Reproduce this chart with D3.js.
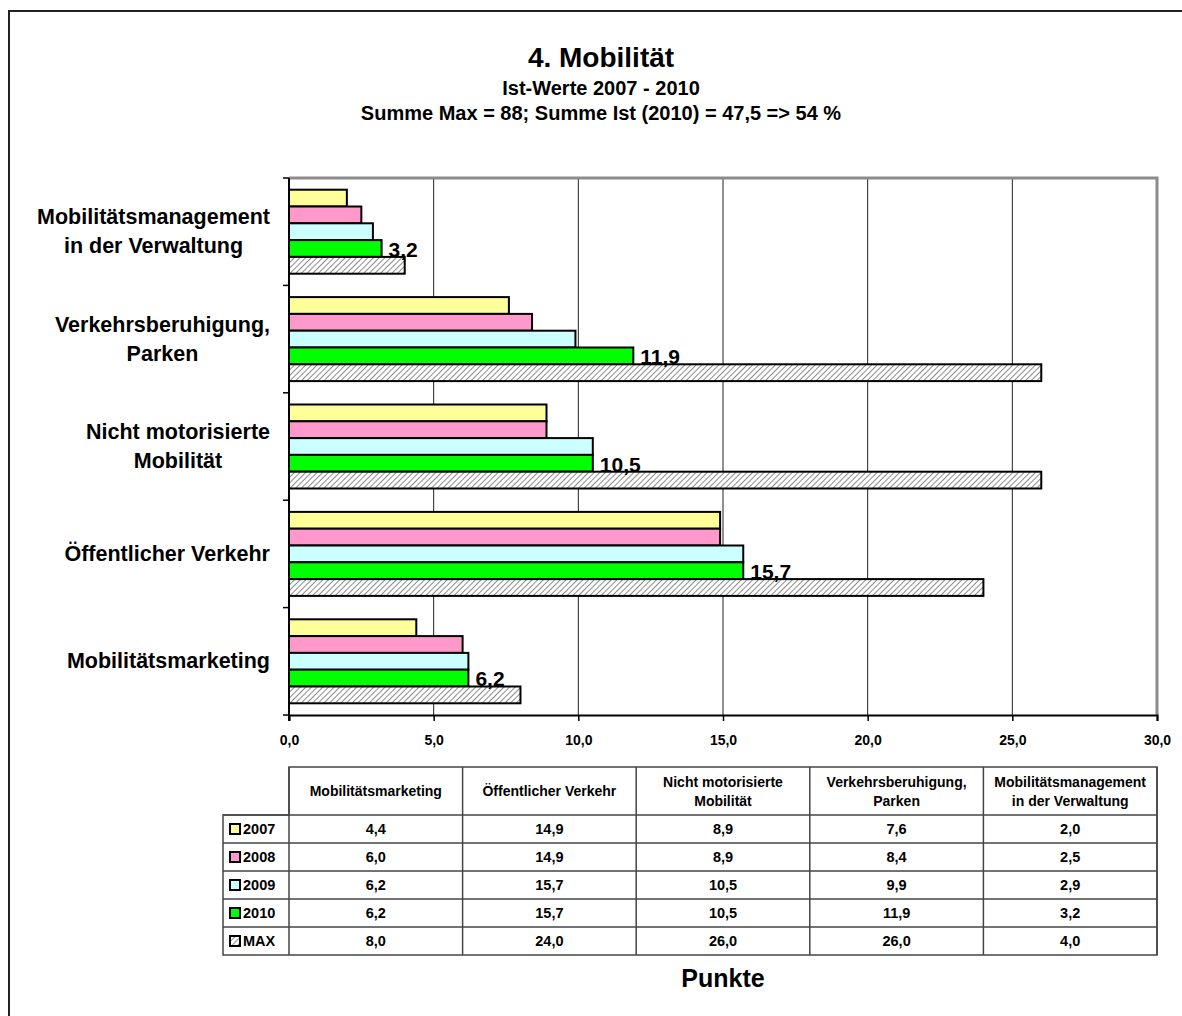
<!DOCTYPE html>
<html>
<head>
<meta charset="utf-8">
<script src="https://cdn.jsdelivr.net/npm/d3@7"></script>
<style>
	body { margin: 0; background: #fff; }
	svg { display: block; font-family: "Liberation Sans", Arial, sans-serif; font-weight: bold; }
</style>
</head>
<body>
<svg width="1182" height="1016"></svg>
<script>
// categories in table order (bottom of chart first)
var categories = ["Mobilitätsmarketing", "Öffentlicher Verkehr", "Nicht motorisierte Mobilität", "Verkehrsberuhigung, Parken", "Mobilitätsmanagement in der Verwaltung"];
var catLines = [["Mobilitätsmarketing"], ["Öffentlicher Verkehr"], ["Nicht motorisierte", "Mobilität"], ["Verkehrsberuhigung,", "Parken"], ["Mobilitätsmanagement", "in der Verwaltung"]];
var seriesNames = ["2007", "2008", "2009", "2010", "MAX"];
var v2007 = [4.4, 14.9, 8.9, 7.6, 2.0];
var v2008 = [6.0, 14.9, 8.9, 8.4, 2.5];
var v2009 = [6.2, 15.7, 10.5, 9.9, 2.9];
var v2010 = [6.2, 15.7, 10.5, 11.9, 3.2];
var vMax = [8.0, 24.0, 26.0, 26.0, 4.0];
var xTicks = [0, 5, 10, 15, 20, 25, 30];
var colors = ["#ffff99", "#ff99cc", "#ccffff", "#00ff00", "url(#hatch)"];

var values = [v2007, v2008, v2009, v2010, vMax];
var fmt = function(v) { return d3.format(".1f")(v).replace(".", ","); };

var svg = d3.select("svg");

var defs = svg.append("defs");
var pat = defs.append("pattern")
	.attr("id", "hatch")
	.attr("patternUnits", "userSpaceOnUse")
	.attr("width", 4).attr("height", 4)
	.attr("patternTransform", "rotate(45)");
pat.append("rect").attr("width", 4).attr("height", 4).attr("fill", "#fff");
pat.append("line").attr("x1", 0).attr("y1", 0).attr("x2", 0).attr("y2", 4)
	.attr("stroke", "#8c8c8c").attr("stroke-width", 2);

// outer frame
svg.append("rect")
	.attr("x", 9).attr("y", 11).attr("width", 1300).attr("height", 1100)
	.attr("fill", "none").attr("stroke", "#222").attr("stroke-width", 2);

// titles
svg.append("text").attr("x", 601).attr("y", 67).attr("text-anchor", "middle")
	.style("font-size", "28px").text("4. Mobilität");
svg.append("text").attr("x", 601).attr("y", 95).attr("text-anchor", "middle")
	.style("font-size", "20px").text("Ist-Werte 2007 - 2010");
svg.append("text").attr("x", 601).attr("y", 120).attr("text-anchor", "middle")
	.style("font-size", "20px").text("Summe Max = 88; Summe Ist (2010) = 47,5 => 54 %");

var pLeft = 289, pRight = 1157, pTop = 178, pBottom = 715;

var x = d3.scaleLinear().domain([0, 30]).range([pLeft, pRight]);
var y0 = d3.scaleBand().domain(d3.range(categories.length).reverse()).range([pTop, pBottom]);
var pad = 11.7;
var y1 = d3.scaleBand().domain(d3.range(seriesNames.length)).range([pad, y0.bandwidth() - pad]);

// gridlines
svg.append("g").selectAll("line")
	.data(xTicks.slice(1, -1)).enter().append("line")
		.attr("x1", function(d) { return x(d); }).attr("x2", function(d) { return x(d); })
		.attr("y1", pTop).attr("y2", pBottom)
		.attr("stroke", "#222").attr("stroke-width", 1);

// plot area border top/right
svg.append("path")
	.attr("d", "M" + pLeft + "," + pTop + "H" + pRight + "V" + pBottom)
	.attr("fill", "none").attr("stroke", "#8c8c8c").attr("stroke-width", 3);

// bars
var groups = svg.append("g").selectAll("g")
	.data(d3.range(categories.length)).enter().append("g")
		.attr("transform", function(c) { return "translate(0," + y0(c) + ")"; });

groups.each(function(c) {
	var g = d3.select(this);
	for (var s = 0; s < 5; s++) {
		g.append("rect")
			.attr("x", x(0)).attr("y", y1(s))
			.attr("width", x(values[s][c]) - x(0)).attr("height", y1.bandwidth())
			.attr("fill", colors[s]).attr("stroke", "#000").attr("stroke-width", 2);
	}
	// label of the 2010 value
	g.append("text")
		.attr("x", x(v2010[c]) + 7).attr("y", y1(3) + y1.bandwidth())
		.style("font-size", "21px").text(fmt(v2010[c]));
});

// axes
var xAxis = svg.append("g")
	.attr("transform", "translate(0," + pBottom + ")")
	.call(d3.axisBottom(x).tickValues(xTicks).tickSize(6).tickFormat(fmt));
xAxis.select(".domain").attr("stroke", "#000").attr("stroke-width", 2);
xAxis.selectAll(".tick line").attr("stroke", "#000").attr("stroke-width", 1.5);
xAxis.selectAll(".tick text").attr("y", 20).attr("fill", "#000")
	.style("font-size", "14px").style("font-family", "'Liberation Sans', Arial, sans-serif").style("font-weight", "bold");

var yLine = svg.append("g");
yLine.append("line").attr("x1", pLeft).attr("x2", pLeft).attr("y1", pTop).attr("y2", pBottom + 6)
	.attr("stroke", "#000").attr("stroke-width", 2);
yLine.selectAll(".yt").data(d3.range(categories.length + 1)).enter().append("line")
	.attr("x1", pLeft - 6).attr("x2", pLeft)
	.attr("y1", function(i) { return pTop + i * y0.bandwidth(); })
	.attr("y2", function(i) { return pTop + i * y0.bandwidth(); })
	.attr("stroke", "#000").attr("stroke-width", 1.5);

// category labels (block right aligned, lines centred)
var labelRight = 270;
d3.range(categories.length).forEach(function(c) {
	var lines = catLines[c];
	var cy = y0(c) + y0.bandwidth() / 2;
	var t = svg.append("text").attr("text-anchor", "middle").style("font-size", "21.5px");
	var lh = 29;
	var yy = cy + 7 - (lines.length - 1) * lh / 2;
	lines.forEach(function(l, i) {
		t.append("tspan").attr("y", yy + i * lh).text(l);
	});
	var w = 0;
	t.selectAll("tspan").each(function() { w = Math.max(w, this.getComputedTextLength()); });
	t.selectAll("tspan").attr("x", labelRight - w / 2);
});

// data table
var tTop = 767, hdrH = 48, rowH = 28, legLeft = 223;
var colW = (pRight - pLeft) / categories.length;
var tbl = svg.append("g").attr("stroke", "#444").attr("stroke-width", 1.5);
var tBottom = tTop + hdrH + rowH * seriesNames.length;
tbl.append("path").attr("fill", "none")
	.attr("d", "M" + pLeft + "," + tTop + "H" + pRight + "V" + tBottom + "H" + legLeft + "V" + (tTop + hdrH) + "H" + pLeft + "Z");
d3.range(1, categories.length + 1).forEach(function(i) {
	tbl.append("line").attr("x1", pLeft + i * colW).attr("x2", pLeft + i * colW).attr("y1", tTop).attr("y2", tBottom);
});
tbl.append("line").attr("x1", pLeft).attr("x2", pLeft).attr("y1", tTop).attr("y2", tBottom);
d3.range(seriesNames.length).forEach(function(r) {
	var yy = tTop + hdrH + r * rowH;
	tbl.append("line").attr("x1", legLeft).attr("x2", pRight).attr("y1", yy).attr("y2", yy);
});

// headers
d3.range(categories.length).forEach(function(c) {
	var lines = catLines[c];
	var cx = pLeft + (c + 0.5) * colW;
	var t = svg.append("text").attr("text-anchor", "middle").style("font-size", "14px");
	var yy = tTop + hdrH / 2 + 5 - (lines.length - 1) * 9.5;
	lines.forEach(function(l, i) {
		t.append("tspan").attr("x", cx).attr("y", yy + i * 19).text(l);
	});
});

// rows
seriesNames.forEach(function(s, r) {
	var cy = tTop + hdrH + r * rowH + rowH / 2;
	svg.append("rect").attr("x", legLeft + 7).attr("y", cy - 5).attr("width", 10).attr("height", 10)
		.attr("fill", colors[r]).attr("stroke", "#000").attr("stroke-width", 2);
	svg.append("text").attr("x", legLeft + 20).attr("y", cy + 5).style("font-size", "14.5px").text(s);
	values[r].forEach(function(v, c) {
		svg.append("text").attr("x", pLeft + (c + 0.5) * colW).attr("y", cy + 5)
			.attr("text-anchor", "middle").style("font-size", "14.5px").text(fmt(v));
	});
});

svg.append("text").attr("x", (pLeft + pRight) / 2).attr("y", 987).attr("text-anchor", "middle")
	.style("font-size", "25px").text("Punkte");
</script>
</body>
</html>
